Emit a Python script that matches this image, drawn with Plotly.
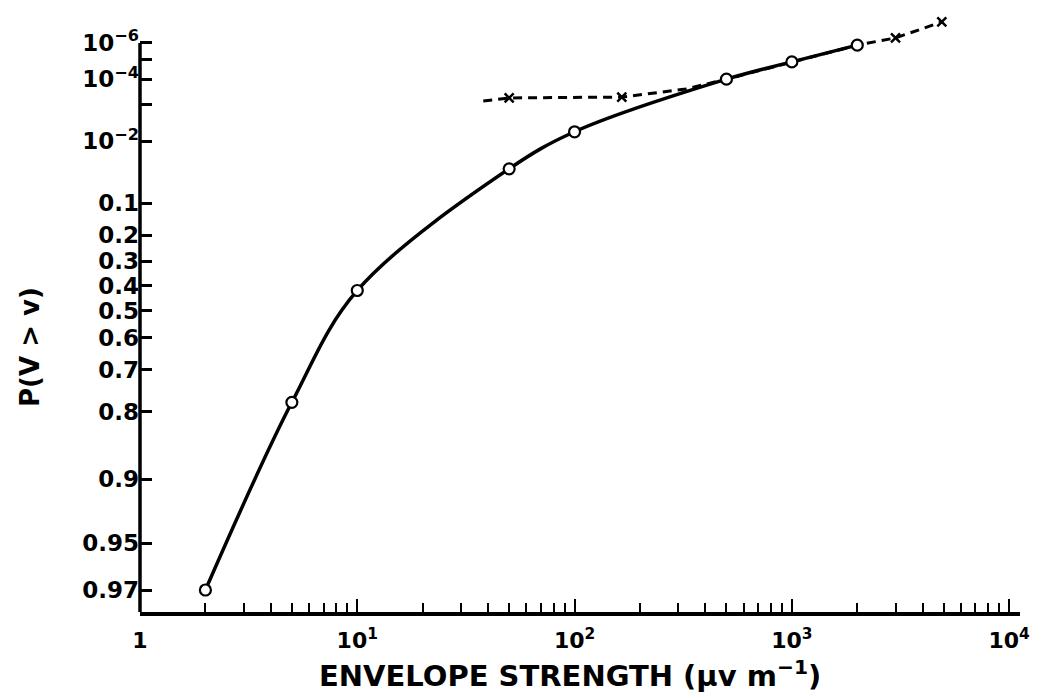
import numpy as np
import plotly.graph_objects as go

# Measured amplitude probability distribution (open circles, solid curve)
envelope_solid = [2, 5, 10, 50, 100, 500, 1000, 2000]
prob_solid = [0.97, 0.78, 0.42, 0.034, 0.006, 1e-4, 1.4e-5, 1.4e-6]

# Second distribution (dashed curve with crosses)
envelope_dash = [38, 50, 165, 325, 500, 1000, 2000, 3000, 4900]
prob_dash = [7.3e-4, 5.7e-4, 5.3e-4, 2.6e-4, 1e-4, 1.4e-5, 1.4e-6, 4.5e-7, 2.6e-8]
dash_marked = [1, 2, 7, 8]

# Probability-paper ticks
prob_ticks = [1e-6, 1e-5, 1e-4, 1e-3, 1e-2, 0.1, 0.2, 0.3, 0.4, 0.5, 0.6, 0.7,
              0.8, 0.9, 0.95, 0.97]
prob_labels = ["10<sup>−6</sup>", "", "10<sup>−4</sup>", "", "10<sup>−2</sup>",
               "0.1", "0.2", "0.3", "0.4", "0.5", "0.6", "0.7", "0.8", "0.9",
               "0.95", "0.97"]

x_ticks = [1, 10, 100, 1000, 10000]
x_labels = ["1", "10<sup>1</sup>", "10<sup>2</sup>", "10<sup>3</sup>", "10<sup>4</sup>"]


def paper(p):
    """Rayleigh probability-paper ordinate: log10(-ln P)."""
    return np.log10(-np.log(np.asarray(p, dtype=float)))


Y_BOTTOM, Y_TOP = -1.623, 1.276
FONT = "DejaVu Sans"

fig = go.Figure()

fig.add_trace(go.Scatter(
    x=envelope_dash, y=paper(prob_dash), mode="lines",
    line=dict(color="black", width=3, dash="9px,6px"),
    hoverinfo="skip", showlegend=False,
))
fig.add_trace(go.Scatter(
    x=[envelope_dash[i] for i in dash_marked],
    y=paper([prob_dash[i] for i in dash_marked]), mode="markers",
    marker=dict(symbol="x-thin", size=9, line=dict(color="black", width=2.5)),
    hoverinfo="skip", showlegend=False,
))
fig.add_trace(go.Scatter(
    x=envelope_solid, y=paper(prob_solid), mode="lines+markers",
    line=dict(color="black", width=3.5, shape="spline", smoothing=1.0),
    marker=dict(symbol="circle", size=11, color="white",
                line=dict(color="black", width=2.2)),
    showlegend=False,
))

minor_x = [k * 10 ** d for d in range(4) for k in range(2, 10)]

fig.update_xaxes(
    type="log", range=[0, 4.05],
    tickmode="array", tickvals=x_ticks, ticktext=x_labels,
    ticks="inside", ticklen=13, tickwidth=2, tickcolor="black",
    ticklabelstandoff=6,
    showline=True, linecolor="black", linewidth=3.5,
    showgrid=False, zeroline=False,
    tickfont=dict(family=FONT, size=22, color="black", weight="bold"),
    minor=dict(tickmode="array", tickvals=minor_x, ticks="inside",
               ticklen=9, tickwidth=1.5, tickcolor="black", showgrid=False),
)
fig.update_yaxes(
    range=[Y_BOTTOM, Y_TOP],
    tickmode="array", tickvals=list(paper(prob_ticks)), ticktext=prob_labels,
    ticks="inside", ticklen=12, tickwidth=2.5, tickcolor="black",
    showline=False, showgrid=False, zeroline=False,
    tickfont=dict(family=FONT, size=23, color="black", weight="bold"),
)

# Left axis line runs from the abscissa up to the 10^-6 level only
fig.add_shape(type="line", xref="paper", yref="y",
              x0=0, x1=0, y0=Y_BOTTOM, y1=float(paper(1e-6)),
              line=dict(color="black", width=3.5))

fig.add_annotation(text="P(V > v)", textangle=-90, xref="paper", yref="paper",
                   x=-0.125, y=0.444, xanchor="center", yanchor="middle",
                   showarrow=False,
                   font=dict(family=FONT, size=26, color="black", weight="bold"))
fig.add_annotation(text="ENVELOPE STRENGTH (\u03bcv m<sup>−1</sup>)",
                   xref="paper", yref="paper", x=0.489, y=-0.104,
                   xanchor="center", yanchor="middle", showarrow=False,
                   font=dict(family=FONT, size=29, color="black", weight="bold"))

fig.update_layout(
    width=1042, height=698,
    margin=dict(l=140, r=15, t=15, b=86),
    paper_bgcolor="white", plot_bgcolor="white",
)

fig.write_html("out.html")
